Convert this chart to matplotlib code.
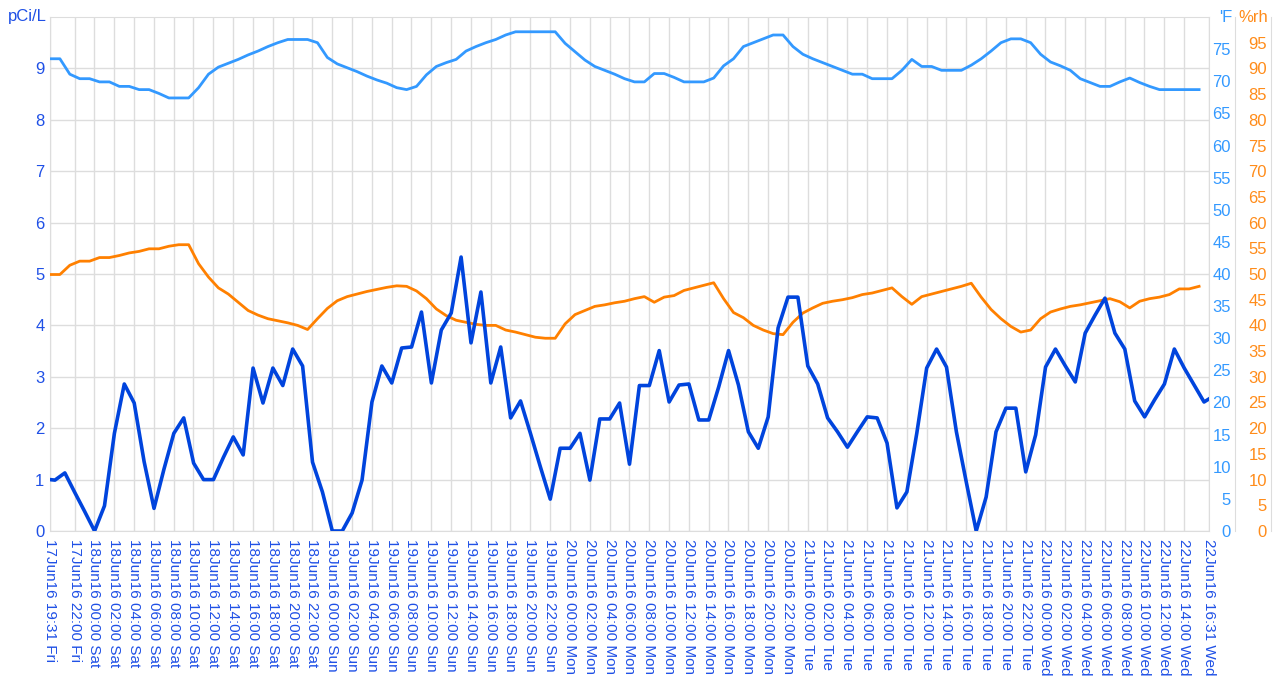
import matplotlib
matplotlib.use('Agg')
import matplotlib.pyplot as plt
import pandas as pd

plt.rcParams['font.family'] = ['Liberation Sans', 'DejaVu Sans']

# radon, pCi/L  (first reading 19:31, then hourly at :01, last reading 16:31)
radon = [1.0,
         0.99, 1.13, 0.75, 0.38, 0.0, 0.49, 1.9, 2.86, 2.49, 1.35,
         0.44, 1.2, 1.9, 2.2, 1.32, 1.0, 1.0, 1.43, 1.83, 1.48,
         3.17, 2.49, 3.17, 2.83, 3.54, 3.21, 1.34, 0.76, 0.0, 0.0,
         0.35, 0.99, 2.51, 3.21, 2.88, 3.56, 3.58, 4.26, 2.88, 3.91,
         4.24, 5.33, 3.66, 4.65, 2.88, 3.58, 2.2, 2.53, 1.9, 1.25,
         0.62, 1.61, 1.61, 1.9, 0.99, 2.18, 2.18, 2.49, 1.3, 2.83,
         2.83, 3.51, 2.51, 2.84, 2.86, 2.16, 2.16, 2.8, 3.51, 2.84,
         1.93, 1.61, 2.22, 3.95, 4.55, 4.55, 3.21, 2.86, 2.2, 1.93,
         1.63, 1.93, 2.22, 2.2, 1.71, 0.45, 0.76, 1.9, 3.17, 3.54,
         3.19, 1.93, 0.95, 0.0, 0.66, 1.93, 2.39, 2.39, 1.15, 1.87,
         3.19, 3.54, 3.21, 2.9, 3.85, 4.2, 4.53, 3.85, 3.54, 2.53,
         2.22, 2.55, 2.86, 3.54, 3.17, 2.84, 2.51,
         2.57]

# temperature, 'F  (hourly from 19:31)
temp_f = [73.5, 73.5, 71.1, 70.4, 70.4, 69.9, 69.9, 69.2, 69.2, 68.7,
          68.7, 68.1, 67.4, 67.4, 67.4, 69.0, 71.1, 72.2, 72.8, 73.4,
          74.1, 74.7, 75.4, 76.0, 76.5, 76.5, 76.5, 76.0, 73.7, 72.7,
          72.1, 71.5, 70.8, 70.2, 69.7, 69.0, 68.7, 69.2, 71.0, 72.3,
          72.9, 73.4, 74.7, 75.4, 76.0, 76.5, 77.2, 77.7, 77.7, 77.7,
          77.7, 77.7, 75.9, 74.6, 73.3, 72.3, 71.7, 71.1, 70.4, 69.9,
          69.9, 71.2, 71.2, 70.6, 69.9, 69.9, 69.9, 70.5, 72.4, 73.5,
          75.4, 76.0, 76.6, 77.2, 77.2, 75.4, 74.2, 73.5, 72.9, 72.3,
          71.7, 71.1, 71.1, 70.4, 70.4, 70.4, 71.7, 73.4, 72.3, 72.3,
          71.7, 71.7, 71.7, 72.5, 73.5, 74.7, 76.0, 76.6, 76.6, 76.0,
          74.2, 73.0, 72.4, 71.7, 70.4, 69.8, 69.2, 69.2, 69.9, 70.5,
          69.8, 69.2, 68.7, 68.7, 68.7, 68.7, 68.7]

# relative humidity, %rh  (hourly from 19:31)
humidity = [49.9, 49.9, 51.7, 52.5, 52.5, 53.2, 53.2, 53.6, 54.1, 54.4,
            54.9, 54.9, 55.4, 55.7, 55.7, 52.0, 49.4, 47.3, 46.1, 44.5,
            42.9, 42.0, 41.3, 40.9, 40.5, 40.0, 39.2, 41.3, 43.3, 44.8,
            45.6, 46.1, 46.6, 47.0, 47.4, 47.7, 47.6, 46.7, 45.2, 43.2,
            41.9, 41.0, 40.6, 40.2, 40.0, 40.0, 39.1, 38.7, 38.2, 37.7,
            37.5, 37.5, 40.3, 42.1, 42.9, 43.7, 44.0, 44.4, 44.7, 45.2,
            45.6, 44.5, 45.5, 45.8, 46.8, 47.3, 47.8, 48.3, 45.2, 42.5,
            41.5, 40.0, 39.1, 38.4, 38.2, 40.6, 42.4, 43.4, 44.3, 44.7,
            45.0, 45.4, 46.0, 46.3, 46.8, 47.3, 45.6, 44.1, 45.6, 46.1,
            46.6, 47.1, 47.6, 48.2, 45.5, 43.1, 41.3, 39.8, 38.7, 39.1,
            41.3, 42.6, 43.2, 43.7, 44.0, 44.4, 44.8, 45.2, 44.6, 43.4,
            44.7, 45.2, 45.5, 46.0, 47.1, 47.1, 47.6]

start = pd.Timestamp('2016-06-17 19:31')
end = pd.Timestamp('2016-06-22 16:31')
radon_times = ([start] + list(pd.date_range('2016-06-17 20:01', periods=117, freq='h'))
               + [end])
climate_times = pd.date_range(start, periods=len(temp_f), freq='h')

tick_times = ([start] + list(pd.date_range('2016-06-17 22:00', '2016-06-22 14:00', freq='2h'))
              + [end])
tick_labels = [t.strftime('%d%b%y %H:%M %a') for t in tick_times]

c_radon = '#0044dd'
c_temp = '#3399ff'
c_hum = '#ff8000'
c_grid = '#dddddd'

fig = plt.figure(figsize=(12.81, 6.87), dpi=100)
W, H = 1281, 687
x0, x1, y0, y1 = 50, 1209, 531, 17
ax = fig.add_axes([x0 / W, 1 - y0 / H, (x1 - x0) / W, (y0 - y1) / H])

ax.set_xlim(start, end)
ax.set_ylim(0, 10)
ax.set_yticks(range(0, 10))
ax.set_xticks(tick_times)
ax.set_xticklabels(tick_labels, rotation=-90, ha='center', va='top')
ax.tick_params(axis='x', length=0, pad=6, labelsize=11, labelcolor='#1f50e6')
ax.tick_params(axis='y', length=0, pad=4, labelsize=12, labelcolor='#1f50e6')
ax.grid(True, color=c_grid, lw=1)
ax.set_axisbelow(True)
for s in ax.spines.values():
    s.set_color(c_grid)

# temperature axis
ax_t = ax.twinx()
ax_t.plot(climate_times, temp_f, color=c_temp, lw=2)
ax_t.set_ylim(0, 80)
ax_t.set_yticks(range(0, 80, 5))
ax_t.yaxis.set_ticks_position('left')
ax_t.spines['left'].set_position(('axes', (1235 - x0) / (x1 - x0)))
ax_t.spines['left'].set_color(c_grid)
for side in ['top', 'bottom', 'right']:
    ax_t.spines[side].set_visible(False)
ax_t.tick_params(axis='y', length=0, pad=3, labelsize=12, labelcolor=c_temp)

# humidity axis
ax_h = ax.twinx()
ax_h.plot(climate_times, humidity, color=c_hum, lw=2)
ax_h.set_ylim(0, 100)
ax_h.set_yticks(range(0, 100, 5))
ax_h.yaxis.set_ticks_position('left')
ax_h.spines['left'].set_position(('axes', (1271 - x0) / (x1 - x0)))
ax_h.spines['left'].set_color(c_grid)
for side in ['top', 'bottom', 'right']:
    ax_h.spines[side].set_visible(False)
ax_h.tick_params(axis='y', length=0, pad=3, labelsize=12, labelcolor='#ff8c1a')

# radon on top
ax_r = ax.twinx()
ax_r.plot(radon_times, radon, color=c_radon, lw=2.6)
ax_r.set_ylim(0, 10)
ax_r.set_yticks([])
for s in ax_r.spines.values():
    s.set_visible(False)

fig.text(47 / W, 1 - 17 / H, 'pCi/L', ha='right', va='center', fontsize=12, color='#1f50e6')
fig.text(1232 / W, 1 - 17 / H, "'F", ha='right', va='center', fontsize=12, color=c_temp)
fig.text(1268 / W, 1 - 17 / H, '%rh', ha='right', va='center', fontsize=12, color='#ff8c1a')

fig.savefig('out.png', dpi=100)
